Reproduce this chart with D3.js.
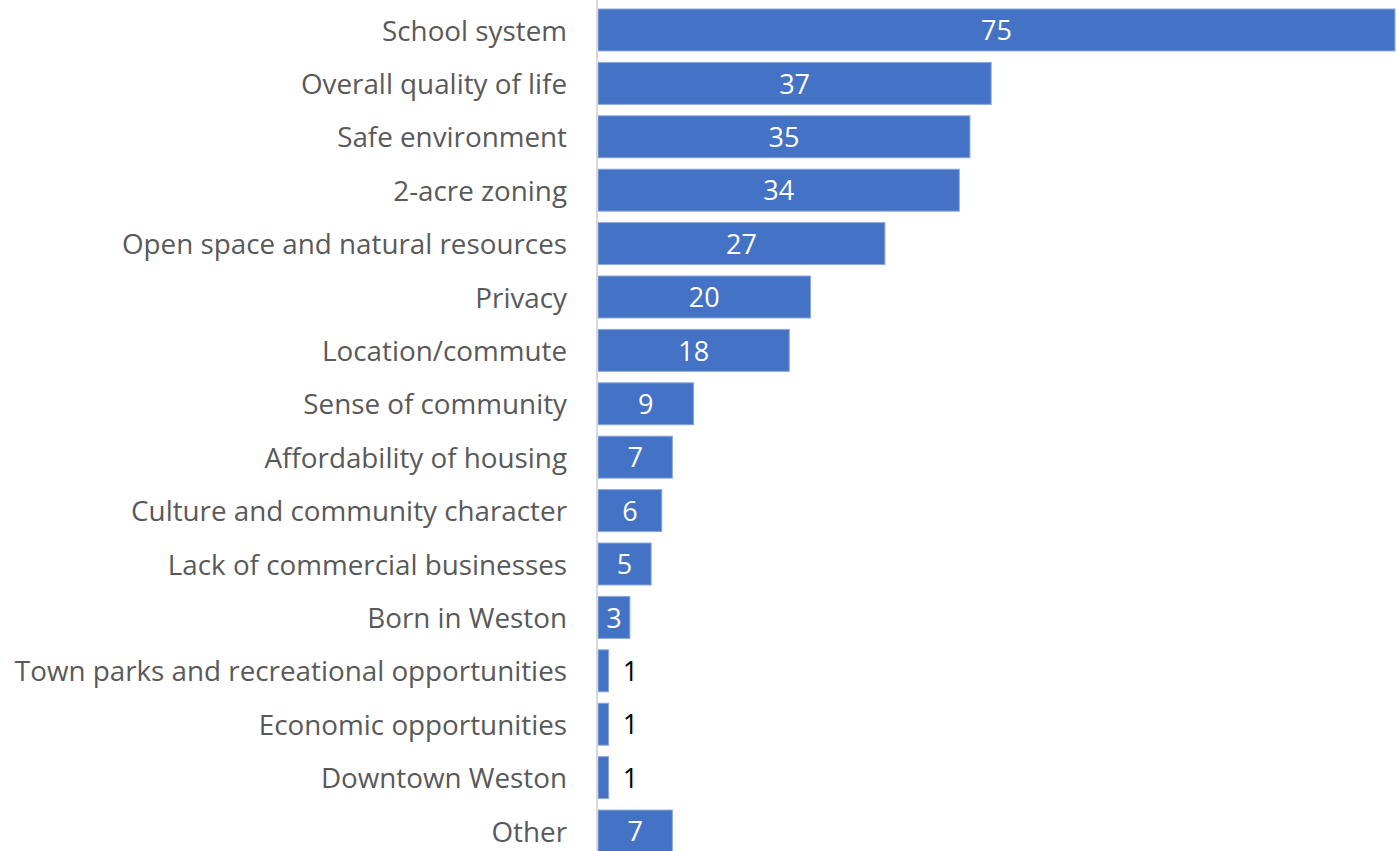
<!DOCTYPE html>
<html>
<head>
<meta charset="utf-8">
<script src="https://cdn.jsdelivr.net/npm/d3@7"></script>
<style>
  html, body { margin: 0; padding: 0; background: #fff; }
  svg { display: block; }
</style>
</head>
<body>
<svg id="chart" width="1397" height="851"></svg>
<script>
// Reasons for living in Weston (number of responses)
const categories = [
  "School system",
  "Overall quality of life",
  "Safe environment",
  "2-acre zoning",
  "Open space and natural resources",
  "Privacy",
  "Location/commute",
  "Sense of community",
  "Affordability of housing",
  "Culture and community character",
  "Lack of commercial businesses",
  "Born in Weston",
  "Town parks and recreational opportunities",
  "Economic opportunities",
  "Downtown Weston",
  "Other"
];
const responses = [75, 37, 35, 34, 27, 20, 18, 9, 7, 6, 5, 3, 1, 1, 1, 7];

const width = 1397, height = 851;
const axisX = 598;
const fontFamily = "'Open Sans', 'Noto Sans', sans-serif";

const svg = d3.select("#chart");

const x = d3.scaleLinear()
  .domain([0, d3.max(responses)])
  .range([axisX, 1395]);

const y = d3.scaleBand()
  .domain(categories)
  .range([9, 852])
  .paddingInner(0.214)
  .paddingOuter(0);

const data = categories.map((c, i) => ({ category: c, value: responses[i] }));

// bars
svg.append("g")
  .selectAll("rect")
  .data(data)
  .join("rect")
  .attr("x", x(0))
  .attr("y", d => y(d.category))
  .attr("width", d => x(d.value) - x(0))
  .attr("height", y.bandwidth())
  .attr("fill", "#4472C4")
  .attr("stroke", "#8EA9DB")
  .attr("stroke-width", 1);

// category axis
const yAxis = d3.axisLeft(y).tickSize(0).tickPadding(30);
const gAxis = svg.append("g")
  .attr("transform", `translate(${axisX - 1},0)`)
  .call(yAxis);
gAxis.select(".domain").remove();
gAxis.selectAll("text")
  .attr("fill", "#595959")
  .attr("dy", "0.38em")
  .style("font-family", fontFamily)
  .style("font-size", "27.8px");

// vertical axis line
svg.append("line")
  .attr("x1", axisX - 1).attr("x2", axisX - 1)
  .attr("y1", 0).attr("y2", height)
  .attr("stroke", "#D9D9D9")
  .attr("stroke-width", 2);

// value labels: centred inside the bar, or just right of very short bars
const minInside = 20;
svg.append("g")
  .selectAll("text")
  .data(data)
  .join("text")
  .attr("x", d => {
    const w = x(d.value) - x(0);
    return w >= minInside ? x(0) + w / 2 : x(d.value) + 14;
  })
  .attr("y", d => y(d.category) + y.bandwidth() / 2)
  .attr("dy", "0.38em")
  .attr("text-anchor", d => (x(d.value) - x(0)) >= minInside ? "middle" : "start")
  .attr("fill", d => (x(d.value) - x(0)) >= minInside ? "#FFFFFF" : "#000000")
  .style("font-family", fontFamily)
  .style("font-size", "27px")
  .text(d => d.value);
</script>
</body>
</html>
